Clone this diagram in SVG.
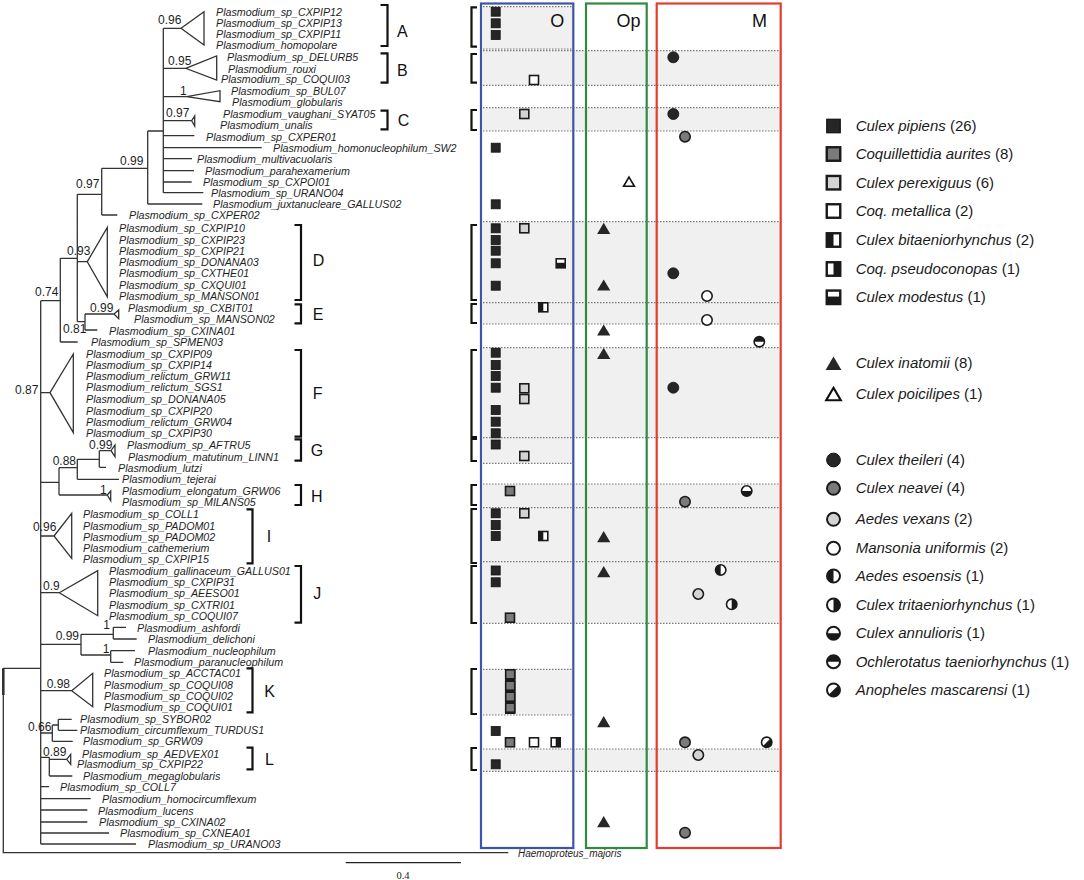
<svg xmlns="http://www.w3.org/2000/svg" width="1084" height="880" viewBox="0 0 1084 880">
<style>
.br{stroke:#333;stroke-width:1.3;fill:none;stroke-linejoin:miter}
.tx{font-family:"Liberation Sans",Arial,sans-serif;font-style:italic;font-size:10.7px;fill:#1e1e1e}
.sv{font-family:"Liberation Sans",Arial,sans-serif;font-size:12px;fill:#1e1e1e}
.cl{font-family:"Liberation Sans",Arial,sans-serif;font-size:16px;fill:#111}
.bk{stroke:#111;stroke-width:2.2;fill:none}
.dot{stroke:#7a7a7a;stroke-width:1.2;stroke-dasharray:1.5 1.5;fill:none}
.band{fill:#eff0ef}
.bx{fill:none;stroke-width:2.2}
.hd{font-family:"Liberation Sans",Arial,sans-serif;font-size:18px;fill:#111}
.lg{font-family:"Liberation Sans",Arial,sans-serif;font-size:15px;fill:#1a1a1a}
.it{font-style:italic}
</style>
<defs>
<g id="sB"><rect x="-4.5" y="-4.5" width="9" height="9" fill="#262626" stroke="#111" stroke-width="0.8"/></g>
<g id="sA"><rect x="-4.5" y="-4.5" width="9" height="9" fill="#7b7b7b" stroke="#1a1a1a" stroke-width="1.6"/></g>
<g id="sP"><rect x="-4.5" y="-4.5" width="9" height="9" fill="#d3d3d3" stroke="#1a1a1a" stroke-width="1.6"/></g>
<g id="sM"><rect x="-4.5" y="-4.5" width="9" height="9" fill="#fff" stroke="#1a1a1a" stroke-width="1.6"/></g>
<g id="sBi"><rect x="-4.5" y="-4.5" width="9" height="9" fill="#fff"/><rect x="-4.5" y="-4.5" width="4.5" height="9" fill="#1a1a1a"/><rect x="-4.5" y="-4.5" width="9" height="9" fill="none" stroke="#1a1a1a" stroke-width="1.6"/></g>
<g id="sPs"><rect x="-4.5" y="-4.5" width="9" height="9" fill="#fff"/><rect x="0" y="-4.5" width="4.5" height="9" fill="#1a1a1a"/><rect x="-4.5" y="-4.5" width="9" height="9" fill="none" stroke="#1a1a1a" stroke-width="1.6"/></g>
<g id="sMo"><rect x="-4.5" y="-4.5" width="9" height="9" fill="#fff"/><rect x="-4.5" y="-0.5" width="9" height="5" fill="#1a1a1a"/><rect x="-4.5" y="-4.5" width="9" height="9" fill="none" stroke="#1a1a1a" stroke-width="1.6"/></g>
<g id="tB"><path d="M0,-5.6L6.6,5.6H-6.6Z" fill="#262626"/></g>
<g id="tW"><path d="M0,-4.6L5.4,4.6H-5.4Z" fill="#fff" stroke="#111" stroke-width="1.6"/></g>
<g id="cT"><circle r="5.5" fill="#262626" stroke="#111" stroke-width="0.8"/></g>
<g id="cN"><circle r="5.2" fill="#7b7b7b" stroke="#1a1a1a" stroke-width="1.6"/></g>
<g id="cV"><circle r="5.2" fill="#d3d3d3" stroke="#1a1a1a" stroke-width="1.6"/></g>
<g id="cMa"><circle r="5.2" fill="#fff" stroke="#1a1a1a" stroke-width="1.6"/></g>
<g id="cE"><circle r="5.2" fill="#fff"/><path d="M0,-5.2A5.2,5.2 0 0 0 0,5.2Z" fill="#1a1a1a"/><circle r="5.2" fill="none" stroke="#1a1a1a" stroke-width="1.6"/></g>
<g id="cTr"><circle r="5.2" fill="#fff"/><path d="M0,-5.2A5.2,5.2 0 0 1 0,5.2Z" fill="#1a1a1a"/><circle r="5.2" fill="none" stroke="#1a1a1a" stroke-width="1.6"/></g>
<g id="cAn"><circle r="5.2" fill="#fff"/><path d="M-5.2,0A5.2,5.2 0 0 0 5.2,0Z" fill="#1a1a1a"/><circle r="5.2" fill="none" stroke="#1a1a1a" stroke-width="1.6"/></g>
<g id="cOc"><circle r="5.2" fill="#fff"/><path d="M-5.2,0A5.2,5.2 0 0 1 5.2,0Z" fill="#1a1a1a"/><circle r="5.2" fill="none" stroke="#1a1a1a" stroke-width="1.6"/></g>
<g id="cAo"><circle r="5.2" fill="#fff"/><path d="M3.68,-3.68A5.2,5.2 0 0 1 -3.68,3.68Z" fill="#1a1a1a"/><circle r="5.2" fill="none" stroke="#1a1a1a" stroke-width="1.6"/></g>
</defs>
<rect width="1084" height="880" fill="#fff"/>

<!-- bands -->
<g id="bands">
<rect class="band" x="483" y="6.7" width="90" height="44"/>
<rect class="band" x="483" y="50.7" width="297" height="34.6"/>
<rect class="band" x="483" y="107.7" width="297" height="23.3"/>
<rect class="band" x="483" y="221.7" width="297" height="102.3"/>
<rect class="band" x="483" y="347.7" width="297" height="90"/>
<rect class="band" x="483" y="437.7" width="90" height="25.6"/>
<rect class="band" x="483" y="484" width="297" height="139.3"/>
<rect class="band" x="483" y="669.3" width="90" height="45.7"/>
<rect class="band" x="483" y="749" width="297" height="22.3"/>
<path class="dot" d="M483,6.7H573 M483,50.7H780 M483,49H573 M483,85.3H780 M483,107.7H780 M483,131H780 M483,221.7H780 M483,302.7H780 M483,324H780 M483,347.7H780 M483,437.7H780 M483,463.3H573 M483,484H780 M483,507.7H780 M483,561.7H780 M483,623.3H780 M483,669.3H573 M483,715H573 M483,749H780 M483,771.3H780"/>
<path class="bk" d="M477,7.3H471.5V46.7H477 M477,54H471.5V82.7H477 M477,110H471.5V130H477 M477,225H471.5V300H477 M477,304H471.5V323H477 M477,350H471.5V437H477 M477,439H471.5V461H477 M477,485H471.5V505H477 M477,509H471.5V563H477 M477,566H471.5V623H477 M477,669H471.5V714H477 M477,748H471.5V770H477"/>
</g>

<!-- host boxes -->
<g id="box-O"><rect class="bx" x="481" y="3.5" width="92.3" height="844.5" stroke="#3d55a6"/><text class="hd" x="557.3" y="27" text-anchor="middle">O</text></g>
<g id="box-Op"><rect class="bx" x="586" y="3.5" width="60.7" height="844.5" stroke="#2f8a43"/><text class="hd" x="616.5" y="27">Op</text></g>
<g id="box-M"><rect class="bx" x="656.7" y="3.5" width="124" height="844.5" stroke="#e43c2f"/><text class="hd" x="759.5" y="27" text-anchor="middle">M</text></g>

<!-- tree branches -->
<g id="connectors">
<path class="br" d="M163.3,28.3V192.7 M163.3,28.3H181 M181,28.3L204,11.7V45Z M163.3,68.3H185.7 M185.7,68.3L216.7,56V80Z M163.3,96.7H186.7 M186.7,96.7L220,90.7V101.7Z M163.3,120.7H191.7 M191.7,120.7L194.7,116V126Z M163.3,135.7H194.3 M163.3,147.7H261.7 M163.3,158.7H192 M163.3,170.7H194 M163.3,182H191.7 M163.3,192.7H203.3 M147.7,131H163.3 M147.7,131V204 M147.7,204H202.3 M101.7,168.3H147.7 M101.7,168.3V215 M101.7,215H117.3 M77.3,194.3H101.7 M77.3,194.3V321.7 M77.3,261.7H87.3 M87.3,261.7L107.3,227.3V296.7Z M77.3,321.7H85 M85,314V330 M85,314H114 M114,314L118.7,310V318.7Z M85,330H97.3 M60.3,258.3H77.3 M60.3,258.3V342 M60.3,342H77.7 M40.7,300.7H60.3 M40.7,300.7V844 M40.7,392.7H50 M50,392.7L73.3,354V432.7Z M40.7,482.3H59 M59,467.7V495 M59,467.7H77.3 M77.3,459.3V479.3 M77.3,479.3H119 M77.3,459.3H99.3 M99.3,450.7V467.3 M99.3,450.7H111 M111,450.7L115,445V456.7Z M99.3,467.3H106 M59,495H107.3 M107.3,495L110.7,491V500.7Z M40.7,536H54 M54,536L71.7,513.3V558.3Z M40.7,592.7H59.3 M59.3,592.7L97.7,570.7V615.7Z M40.7,644.3H81 M81,634.3V655 M81,634.3H113.3 M113.3,627.3V639 M113.3,627.3H126 M113.3,639H136.7 M81,655H110.7 M110.7,650.7V662.3 M110.7,650.7H135 M110.7,662.3H123.3 M40.7,690.7H71.7 M71.7,690.7L92.7,673.3V706.7Z M40.7,733H52.3 M52.3,725V741.3 M52.3,725H58.3 M58.3,719.3V730.3 M58.3,719.3H71.7 M58.3,730.3H77.3 M52.3,741.3H72.7 M40.7,757.3H49.3 M49.3,757.3V776 M49.3,759.3H66.7 M66.7,759.3L70.7,754.3V764.3Z M49.3,776H72.3 M40.7,786.7H49 M40.7,798.7H90.7 M40.7,810H87.3 M40.7,822H87.3 M40.7,833H109 M40.7,844H136 M3.3,668.3H40.7 M3.3,668.3V852.7H508.3"/>
<path d="M3.3,668.3V695" stroke="#333" stroke-width="2.6"/>
</g>

<!-- support values -->
<g id="supports" class="sv">
<text x="158" y="24">0.96</text><text x="168" y="65">0.95</text><text x="180" y="95">1</text><text x="166" y="117">0.97</text>
<text x="120" y="165">0.99</text><text x="76" y="187.5">0.97</text><text x="67" y="255">0.93</text><text x="35" y="296">0.74</text>
<text x="90" y="311.5">0.99</text><text x="63" y="333">0.81</text><text x="15" y="393.5">0.87</text><text x="89" y="448.5">0.99</text>
<text x="52.7" y="465">0.88</text><text x="100" y="493.5">1</text><text x="33" y="531">0.96</text><text x="43" y="590">0.9</text>
<text x="103.3" y="629">1</text><text x="55.7" y="640">0.99</text><text x="102.7" y="652.5">1</text><text x="46.7" y="687.5">0.98</text>
<text x="28" y="731">0.66</text><text x="43" y="756">0.89</text>
</g>

<!-- taxa -->
<g id="taxa" class="tx">
<text id="t1" x="216" y="15.5">Plasmodium_sp_CXPIP12</text>
<text id="t2" x="216" y="26.5">Plasmodium_sp_CXPIP13</text>
<text id="t3" x="216" y="37.8">Plasmodium_sp_CXPIP11</text>
<text id="t4" x="216" y="49.1">Plasmodium_homopolare</text>
<text id="t5" x="227" y="60.5">Plasmodium_sp_DELURB5</text>
<text id="t6" x="228" y="72.5">Plasmodium_rouxi</text>
<text id="t7" x="221" y="83.1">Plasmodium_sp_COQUI03</text>
<text id="t8" x="231" y="94.8">Plasmodium_sp_BUL07</text>
<text id="t9" x="232" y="105.5">Plasmodium_globularis</text>
<text id="t10" x="223" y="117.8">Plasmodium_vaughani_SYAT05</text>
<text id="t11" x="220" y="129.1">Plasmodium_unalis</text>
<text id="t12" x="206" y="140.5">Plasmodium_sp_CXPER01</text>
<text id="t13" x="273" y="151.5">Plasmodium_homonucleophilum_SW2</text>
<text id="t14" x="197" y="163.1">Plasmodium_multivacuolaris</text>
<text id="t15" x="205" y="174.8">Plasmodium_parahexamerium</text>
<text id="t16" x="203" y="185.8">Plasmodium_sp_CXPOI01</text>
<text id="t17" x="211" y="196.5">Plasmodium_sp_URANO04</text>
<text id="t18" x="213" y="207.8">Plasmodium_juxtanucleare_GALLUS02</text>
<text id="t19" x="129" y="219.3">Plasmodium_sp_CXPER02</text>
<text id="t20" x="119" y="232.1">Plasmodium_sp_CXPIP10</text>
<text id="t21" x="119" y="243.5">Plasmodium_sp_CXPIP23</text>
<text id="t22" x="119" y="254.8">Plasmodium_sp_CXPIP21</text>
<text id="t23" x="119" y="266.1">Plasmodium_sp_DONANA03</text>
<text id="t24" x="119" y="277.1">Plasmodium_sp_CXTHE01</text>
<text id="t25" x="119" y="288.5">Plasmodium_sp_CXQUI01</text>
<text id="t26" x="119" y="300">Plasmodium_sp_MANSON01</text>
<text id="t27" x="128" y="311.8">Plasmodium_sp_CXBIT01</text>
<text id="t28" x="134" y="323.1">Plasmodium_sp_MANSON02</text>
<text id="t29" x="109" y="334.5">Plasmodium_sp_CXINA01</text>
<text id="t30" x="91" y="345.8">Plasmodium_sp_SPMEN03</text>
<text id="t31" x="86" y="357.8">Plasmodium_sp_CXPIP09</text>
<text id="t32" x="86" y="368.8">Plasmodium_sp_CXPIP14</text>
<text id="t33" x="86" y="379.8">Plasmodium_relictum_GRW11</text>
<text id="t34" x="86" y="391.1">Plasmodium_relictum_SGS1</text>
<text id="t35" x="86" y="402.8">Plasmodium_sp_DONANA05</text>
<text id="t36" x="86" y="414.5">Plasmodium_sp_CXPIP20</text>
<text id="t37" x="86" y="425.5">Plasmodium_relictum_GRW04</text>
<text id="t38" x="86" y="437.1">Plasmodium_sp_CXPIP30</text>
<text id="t39" x="127" y="448.8">Plasmodium_sp_AFTRU5</text>
<text id="t40" x="128" y="460.5">Plasmodium_matutinum_LINN1</text>
<text id="t41" x="118" y="471.5">Plasmodium_lutzi</text>
<text id="t42" x="122" y="483.1">Plasmodium_tejerai</text>
<text id="t43" x="122" y="494.8">Plasmodium_elongatum_GRW06</text>
<text id="t44" x="122" y="505.5">Plasmodium_sp_MILANS05</text>
<text id="t45" x="83" y="517.5">Plasmodium_sp_COLL1</text>
<text id="t46" x="83" y="529.5">Plasmodium_sp_PADOM01</text>
<text id="t47" x="83" y="540.5">Plasmodium_sp_PADOM02</text>
<text id="t48" x="83" y="552.1">Plasmodium_cathemerium</text>
<text id="t49" x="83" y="562.8">Plasmodium_sp_CXPIP15</text>
<text id="t50" x="109" y="574.5">Plasmodium_gallinaceum_GALLUS01</text>
<text id="t51" x="109" y="586.1">Plasmodium_sp_CXPIP31</text>
<text id="t52" x="109" y="597.1">Plasmodium_sp_AEESO01</text>
<text id="t53" x="109" y="608.5">Plasmodium_sp_CXTRI01</text>
<text id="t54" x="109" y="619.5">Plasmodium_sp_COQUI07</text>
<text id="t55" x="137" y="631.5">Plasmodium_ashfordi</text>
<text id="t56" x="148" y="643.1">Plasmodium_delichoni</text>
<text id="t57" x="148" y="654.5">Plasmodium_nucleophilum</text>
<text id="t58" x="134" y="666.1">Plasmodium_paranucleophilum</text>
<text id="t59" x="104" y="677.1">Plasmodium_sp_ACCTAC01</text>
<text id="t60" x="104" y="688.5">Plasmodium_sp_COQUI08</text>
<text id="t61" x="104" y="699.8">Plasmodium_sp_COQUI02</text>
<text id="t62" x="104" y="711.1">Plasmodium_sp_COQUI01</text>
<text id="t63" x="80" y="723.1">Plasmodium_sp_SYBOR02</text>
<text id="t64" x="80" y="734.1">Plasmodium_circumflexum_TURDUS1</text>
<text id="t65" x="83" y="745.1">Plasmodium_sp_GRW09</text>
<text id="t66" x="82" y="757.5">Plasmodium_sp_AEDVEX01</text>
<text id="t67" x="77" y="768.1">Plasmodium_sp_CXPIP22</text>
<text id="t68" x="83" y="779.8">Plasmodium_megaglobularis</text>
<text id="t69" x="60" y="790.5">Plasmodium_sp_COLL7</text>
<text id="t70" x="102" y="802.5">Plasmodium_homocircumflexum</text>
<text id="t71" x="98" y="814.5">Plasmodium_lucens</text>
<text id="t72" x="99" y="825.8">Plasmodium_sp_CXINA02</text>
<text id="t73" x="120" y="836.8">Plasmodium_sp_CXNEA01</text>
<text id="t74" x="148" y="847.8">Plasmodium_sp_URANO03</text>
<text id="t75" x="518" y="856.8" style="font-size:10px">Haemoproteus_majoris</text>
</g>

<!-- clade brackets -->
<g id="clades">
<path class="bk" d="M380.5,5H387.5V46H380.5 M380.5,53.3H387.5V82.7H380.5 M380.5,110.7H387.5V129.3H380.5 M294.5,225H301V300H294.5 M294.5,304.3H301V323.3H294.5 M294.5,350H301V436.7H294.5 M294.5,439.3H301V460.7H294.5 M294.5,485H301V505H294.5 M246.5,509.3H252.5V563.3H246.5 M294.5,566H301V622.7H294.5 M246.5,668.3H252.5V712.3H246.5 M246.5,747.7H252.5V769.3H246.5"/>
<text class="cl" x="397" y="37.4">A</text>
<text class="cl" x="397" y="75.7">B</text>
<text class="cl" x="397.7" y="126.4">C</text>
<text class="cl" x="312.7" y="265.7">D</text>
<text class="cl" x="312.7" y="319.7">E</text>
<text class="cl" x="312.7" y="399">F</text>
<text class="cl" x="310.7" y="455.7">G</text>
<text class="cl" x="311" y="502.4">H</text>
<text class="cl" x="266.7" y="542.4">I</text>
<text class="cl" x="313.3" y="599">J</text>
<text class="cl" x="264.3" y="697.4">K</text>
<text class="cl" x="265" y="765">L</text>
</g>

<!-- scale bar -->
<g id="scale">
<path d="M345.7,862.7H461" stroke="#222" stroke-width="1.2"/>
<text x="403" y="878.5" text-anchor="middle" style="font-family:'Liberation Serif',serif;font-size:10.5px;fill:#222">0.4</text>
</g>

<!-- host symbols -->
<g id="symbols-O">
<use href="#sB" x="495.7" y="11.7"/><use href="#sB" x="495.7" y="23.3"/><use href="#sB" x="495.7" y="35"/>
<use href="#sB" x="495.7" y="147.7"/><use href="#sB" x="495.7" y="204.3"/>
<use href="#sB" x="495.7" y="228.3"/><use href="#sB" x="495.7" y="240"/><use href="#sB" x="495.7" y="250.7"/><use href="#sB" x="495.7" y="263.3"/><use href="#sB" x="495.7" y="285.7"/>
<use href="#sB" x="495.7" y="352.7"/><use href="#sB" x="495.7" y="365"/><use href="#sB" x="495.7" y="376"/><use href="#sB" x="495.7" y="387.7"/><use href="#sB" x="495.7" y="410"/><use href="#sB" x="495.7" y="421.7"/><use href="#sB" x="495.7" y="433.3"/>
<use href="#sB" x="495.7" y="444.5"/>
<use href="#sB" x="495.7" y="513.3"/><use href="#sB" x="495.7" y="525"/><use href="#sB" x="495.7" y="536"/>
<use href="#sB" x="495.7" y="570.5"/><use href="#sB" x="495.7" y="582.3"/>
<use href="#sB" x="495.7" y="731"/><use href="#sB" x="495.7" y="764.3"/>
<use href="#sM" x="534" y="80"/><use href="#sM" x="534" y="742.3"/>
<use href="#sP" x="524.3" y="114"/><use href="#sP" x="524.3" y="228.3"/><use href="#sP" x="524.3" y="388.3"/><use href="#sP" x="524.3" y="399"/><use href="#sP" x="524.3" y="456"/><use href="#sP" x="524.3" y="513.3"/>
<use href="#sMo" x="560.7" y="263.3"/>
<use href="#sBi" x="543.3" y="307.3"/><use href="#sBi" x="543.3" y="536"/>
<use href="#sPs" x="555.7" y="742.3"/>
<use href="#sA" x="510" y="491"/><use href="#sA" x="510" y="617.7"/>
<rect x="505" y="669" width="10.5" height="45" fill="#1a1a1a"/>
<use href="#sA" x="510.2" y="674.3"/><use href="#sA" x="510.2" y="685.7"/><use href="#sA" x="510.2" y="696.7"/><use href="#sA" x="510.2" y="707.7"/>
<use href="#sA" x="510" y="742.3"/>
</g>
<g id="symbols-Op">
<use href="#tB" x="603.7" y="228.3"/><use href="#tB" x="603.7" y="285"/><use href="#tB" x="603.7" y="330"/><use href="#tB" x="603.7" y="353.3"/><use href="#tB" x="603.7" y="536.7"/><use href="#tB" x="603.7" y="571.7"/><use href="#tB" x="603.7" y="721.7"/><use href="#tB" x="603.7" y="821.7"/>
<use href="#tW" x="629" y="181.7"/>
</g>
<g id="symbols-M">
<use href="#cT" x="673.3" y="57.3"/><use href="#cT" x="673.3" y="114"/><use href="#cT" x="673.3" y="273.3"/><use href="#cT" x="673.3" y="387.7"/>
<use href="#cN" x="685" y="136.7"/><use href="#cN" x="685" y="501.7"/><use href="#cN" x="685" y="742.3"/><use href="#cN" x="685" y="832.7"/>
<use href="#cV" x="698.3" y="594"/><use href="#cV" x="698.3" y="755"/>
<use href="#cMa" x="707" y="296"/><use href="#cMa" x="707" y="320"/>
<use href="#cE" x="720.7" y="570"/>
<use href="#cTr" x="731.7" y="604.3"/>
<use href="#cOc" x="759.3" y="341.7"/>
<use href="#cAn" x="746.7" y="491"/>
<use href="#cAo" x="766.7" y="742.3"/>
</g>

<!-- legend -->
<g id="legend" class="lg">
<g id="lg1"><use href="#sB" transform="translate(833.5,126) scale(1.5)"/><text x="855.7" y="131"><tspan class="it">Culex pipiens</tspan> (26)</text></g>
<g id="lg2"><use href="#sA" transform="translate(833.5,154) scale(1.5)"/><text x="855.7" y="159"><tspan class="it">Coquillettidia aurites</tspan> (8)</text></g>
<g id="lg3"><use href="#sP" transform="translate(833.5,182.7) scale(1.5)"/><text x="855.7" y="187.7"><tspan class="it">Culex perexiguus</tspan> (6)</text></g>
<g id="lg4"><use href="#sM" transform="translate(833.5,211) scale(1.5)"/><text x="855.7" y="216"><tspan class="it">Coq. metallica</tspan> (2)</text></g>
<g id="lg5"><use href="#sBi" transform="translate(833.5,240) scale(1.5)"/><text x="855.7" y="245"><tspan class="it">Culex bitaeniorhynchus</tspan> (2)</text></g>
<g id="lg6"><use href="#sPs" transform="translate(833.5,269) scale(1.5)"/><text x="855.7" y="274"><tspan class="it">Coq. pseudoconopas</tspan> (1)</text></g>
<g id="lg7"><use href="#sMo" transform="translate(833.5,297.3) scale(1.5)"/><text x="855.7" y="302.3"><tspan class="it">Culex modestus</tspan> (1)</text></g>
<g id="lg8"><use href="#tB" transform="translate(833.5,363.3) scale(1.2)"/><text x="855.7" y="368.3"><tspan class="it">Culex inatomii</tspan> (8)</text></g>
<g id="lg9"><use href="#tW" transform="translate(833.5,394) scale(1.35)"/><text x="855.7" y="399"><tspan class="it">Culex poicilipes</tspan> (1)</text></g>
<g id="lg10"><use href="#cT" transform="translate(833.5,460) scale(1.25)"/><text x="855.7" y="465"><tspan class="it">Culex theileri</tspan> (4)</text></g>
<g id="lg11"><use href="#cN" transform="translate(833.5,488.3) scale(1.25)"/><text x="855.7" y="493.3"><tspan class="it">Culex neavei</tspan> (4)</text></g>
<g id="lg12"><use href="#cV" transform="translate(833.5,519.3) scale(1.25)"/><text x="855.7" y="524.3"><tspan class="it">Aedes vexans</tspan> (2)</text></g>
<g id="lg13"><use href="#cMa" transform="translate(833.5,548.3) scale(1.25)"/><text x="855.7" y="553.3"><tspan class="it">Mansonia uniformis</tspan> (2)</text></g>
<g id="lg14"><use href="#cE" transform="translate(833.5,576) scale(1.25)"/><text x="855.7" y="581"><tspan class="it">Aedes esoensis</tspan> (1)</text></g>
<g id="lg15"><use href="#cTr" transform="translate(833.5,605) scale(1.25)"/><text x="855.7" y="610"><tspan class="it">Culex tritaeniorhynchus</tspan> (1)</text></g>
<g id="lg16"><use href="#cAn" transform="translate(833.5,633.3) scale(1.25)"/><text x="855.7" y="638.3"><tspan class="it">Culex annulioris</tspan> (1)</text></g>
<g id="lg17"><use href="#cOc" transform="translate(833.5,661.7) scale(1.25)"/><text x="855.7" y="666.7"><tspan class="it">Ochlerotatus taeniorhynchus</tspan> (1)</text></g>
<g id="lg18"><use href="#cAo" transform="translate(833.5,690) scale(1.25)"/><text x="855.7" y="695"><tspan class="it">Anopheles mascarensi</tspan> (1)</text></g>
</g>
</svg>
